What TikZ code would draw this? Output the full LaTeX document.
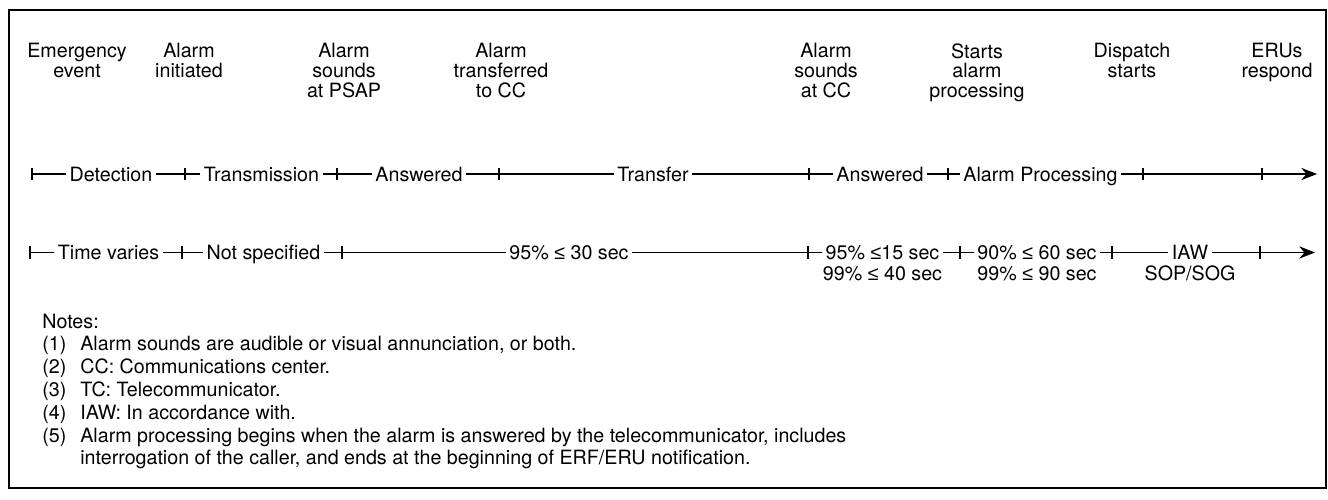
\documentclass[tikz,border=0pt]{standalone}
\usepackage{fontspec}
\setmainfont{TeX Gyre Heros}
\newfontfamily\symfont{Liberation Sans}
\newcommand{\upto}{{\symfont ≤}}
\usetikzlibrary{arrows.meta}

\tikzset{
  milestone/.style={anchor=north, align=center, inner sep=0pt, font=\fontsize{11.2}{11.3}\selectfont},
  phase/.style={anchor=base, inner xsep=2pt, inner ysep=0pt, font=\fontsize{11.2}{11.3}\selectfont},
  note/.style={anchor=base west, inner sep=0pt, font=\fontsize{11.2}{11.3}\selectfont},
  timeline/.style={line width=0.75pt},
  tickmark/.style={line width=0.75pt},
  flow/.style={line width=0.75pt, -{Stealth[length=9pt, width=7pt, inset=3pt]}}
}

\begin{document}
\begin{tikzpicture}[x=0.02cm, y=-0.02cm]
        \useasboundingbox (0,0) rectangle (1328,500);
        \draw[line width=1.5pt] (9,10) rectangle (1326,488);

        % milestones
        \node[milestone] (emerg)  at (77,43)   {Emergency\\event};
        \node[milestone] (init)   at (189,43)  {Alarm\\initiated};
        \node[milestone] (psap)   at (344,43)  {Alarm\\sounds\\at PSAP};
        \node[milestone] (tocc)   at (501,43)  {Alarm\\transferred\\to CC};
        \node[milestone] (atcc)   at (826,43)  {Alarm\\sounds\\at CC};
        \node[milestone] (start)  at (977,43)  {Starts\\alarm\\processing};
        \node[milestone] (disp)   at (1132,43) {Dispatch\\starts};
        \node[milestone] (eru)    at (1277,43) {ERUs\\respond};

        % phase line
        \foreach \name/\x in {a0/32, a1/185, a2/337, a3/499, a4/809, a5/948, a6/1143, a7/1262, a8/1317}
            \coordinate (\name) at (\x,174);
        \node[phase] (det)   at (111,181)    {Detection};
        \node[phase] (trans) at (261.5,181)  {Transmission};
        \node[phase] (ansA)  at (419,181)    {Answered};
        \node[phase] (xfer)  at (653,181)    {Transfer};
        \node[phase] (ansB)  at (880,181)    {Answered};
        \node[phase] (proc)  at (1040.5,181) {Alarm Processing};
        \draw[timeline] (a0) -- (det.west |- a0);
        \draw[timeline] (det.east |- a0) -- (a1) -- (trans.west |- a0);
        \draw[timeline] (trans.east |- a0) -- (a2) -- (ansA.west |- a0);
        \draw[timeline] (ansA.east |- a0) -- (a3) -- (xfer.west |- a0);
        \draw[timeline] (xfer.east |- a0) -- (a4) -- (ansB.west |- a0);
        \draw[timeline] (ansB.east |- a0) -- (a5) -- (proc.west |- a0);
        \draw[flow] (proc.east |- a0) -- (a6) -- (a7) -- (a8);
        \foreach \c in {a0,a1,a2,a3,a4,a5,a6,a7}
            \draw[tickmark] ([yshift=3.6pt]\c) -- ([yshift=-3.6pt]\c);

        % time line
        \foreach \name/\x in {b0/30, b1/182, b2/342, b3/808, b4/960, b5/1112, b6/1260, b7/1315}
            \coordinate (\name) at (\x,252.5);
        \node[phase] (tvar)  at (108.5,259.5) {Time varies};
        \node[phase] (nspec) at (263.5,259.5) {Not specified};
        \node[phase] (xferT) at (569,259.5)   {95\% \upto{} 30 sec};
        \node[phase] (ansT)  at (882.5,259.5) {95\% \upto15 sec};
        \node[phase] (procT) at (1037,259.5)  {90\% \upto{} 60 sec};
        \node[phase] (iaw)   at (1190,259.5)  {IAW};
        \node[phase] (ansT2)  at (882.5,280) {99\% \upto{} 40 sec};
        \node[phase] (procT2) at (1037,280)  {99\% \upto{} 90 sec};
        \node[phase] (iaw2)   at (1190,280)  {SOP/SOG};
        \draw[timeline] (b0) -- (tvar.west |- b0);
        \draw[timeline] (tvar.east |- b0) -- (b1) -- (nspec.west |- b0);
        \draw[timeline] (nspec.east |- b0) -- (b2) -- (xferT.west |- b0);
        \draw[timeline] (xferT.east |- b0) -- (b3) -- (ansT.west |- b0);
        \draw[timeline] (ansT.east |- b0) -- (b4) -- (procT.west |- b0);
        \draw[timeline] (procT.east |- b0) -- (b5) -- (iaw.west |- b0);
        \draw[flow] (iaw.east |- b0) -- (b6) -- (b7);
        \foreach \c in {b0,b1,b2,b3,b4,b5,b6}
            \draw[tickmark] ([yshift=3.6pt]\c) -- ([yshift=-3.6pt]\c);

        % notes
        \node[note] (notes) at (42,328) {Notes:};
        \foreach \k/\txt in {1/{Alarm sounds are audible or visual annunciation, or both.},
                             2/{CC: Communications center.},
                             3/{TC: Telecommunicator.},
                             4/{IAW: In accordance with.},
                             5/{Alarm processing begins when the alarm is answered by the telecommunicator, includes}}
        {
            \node[note] (num\k) at (42,{328+22.8*\k}) {(\k)};
            \node[note] (txt\k) at (80,{328+22.8*\k}) {\txt};
        }
        \node[note] (txt6) at (80,{328+22.8*6}) {interrogation of the caller, and ends at the beginning of ERF/ERU notification.};
\end{tikzpicture}
\end{document}
